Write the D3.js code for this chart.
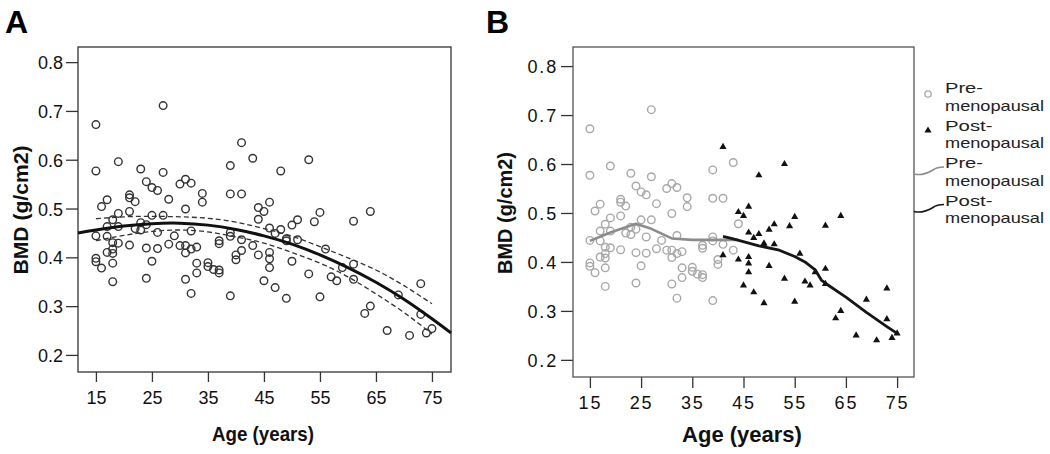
<!DOCTYPE html>
<html>
<head>
<meta charset="utf-8">
<script src="https://cdn.jsdelivr.net/npm/d3@7"></script>
<style>
  body { margin: 0; background: #fff; }
  text { font-family: "Liberation Sans", Arial, sans-serif; }
</style>
</head>
<body>
<script>
// pre-menopausal women (age, BMD)
const preAge = [15,15,15,15,15, 16,16, 17,17,17,17, 18,18,18,18,18,18, 19,19,19,19,
  21,21,21,21, 22,22, 23,23,23, 24,24,24,24, 25,25,25, 26,26,26, 27,27,27, 28,28, 29,
  30,30, 31,31,31,31,31, 32,32,32,32, 33,33,33, 34,34, 35,35, 36, 37,37,37,37,
  39,39,39,39,39, 40,40, 41,41, 43,43, 44];
const preBmd = [0.672,0.577,0.444,0.398,0.391, 0.504,0.378, 0.518,0.463,0.443,0.410,
  0.477,0.430,0.417,0.408,0.388,0.350, 0.596,0.490,0.463,0.429,
  0.528,0.522,0.494,0.425, 0.514,0.459, 0.581,0.471,0.456, 0.555,0.467,0.419,0.357,
  0.543,0.486,0.392, 0.537,0.451,0.418, 0.711,0.574,0.486, 0.519,0.427, 0.444,
  0.550,0.424, 0.560,0.499,0.424,0.409,0.355, 0.552,0.454,0.417,0.326, 0.421,0.388,0.368,
  0.531,0.513, 0.389,0.381, 0.375, 0.434,0.428,0.374,0.368,
  0.588,0.530,0.451,0.443,0.321, 0.405,0.395, 0.530,0.436, 0.603,0.424, 0.478];
// post-menopausal women (age, BMD)
const postAge = [41,41, 44,44, 45,45, 46,46,46,46,46, 47,47, 48,48, 49,49,49, 50,50,
  51,51, 53,53, 54, 55,55, 56, 57, 58, 59, 61,61,61, 63, 64,64, 67, 69, 71, 73,73, 74, 75];
const postBmd = [0.635,0.414, 0.502,0.405, 0.494,0.352, 0.513,0.460,0.410,0.397,0.379,
  0.449,0.338, 0.577,0.457, 0.438,0.434,0.316, 0.466,0.392,
  0.477,0.436, 0.600,0.366, 0.473, 0.492,0.319, 0.417, 0.360, 0.352, 0.379,
  0.474,0.386,0.355, 0.285, 0.494,0.300, 0.250, 0.323, 0.240, 0.346,0.283, 0.245, 0.254];

// panel A: quadratic fit with 95% CI
const fitAge = [11.8, 15, 20, 25, 30, 35, 40, 45, 50, 55, 60, 65, 70, 75, 78.4];
const fitMid = [0.450, 0.456, 0.464, 0.469, 0.470, 0.466, 0.457, 0.444, 0.427, 0.405, 0.379, 0.349, 0.314, 0.274, 0.245];
const ciAge = [15, 20, 25, 30, 35, 40, 45, 50, 55, 60, 65, 70, 75];
const ciUpper = [0.479, 0.483, 0.484, 0.483, 0.480, 0.472, 0.459, 0.443, 0.422, 0.399, 0.374, 0.342, 0.305];
const ciLower = [0.434, 0.445, 0.453, 0.456, 0.452, 0.442, 0.429, 0.410, 0.388, 0.360, 0.325, 0.287, 0.243];

// panel B: loess lines
const loessPreAge = [15, 19, 24, 26.7, 31, 35, 40, 44];
const loessPreBmd = [0.443, 0.460, 0.478, 0.469, 0.448, 0.445, 0.445, 0.445];
const loessPostAge = [41, 43, 48, 52, 55, 57, 59, 60.2, 61.2, 65, 69, 73, 75];
const loessPostBmd = [0.452, 0.447, 0.433, 0.424, 0.411, 0.400, 0.384, 0.363, 0.355, 0.328, 0.297, 0.268, 0.254];

const xTicks = [15, 25, 35, 45, 55, 65, 75];
const yTicks = [0.2, 0.3, 0.4, 0.5, 0.6, 0.7, 0.8];
const legendLabels = [["Pre-", "menopausal"], ["Post-", "menopausal"], ["Pre-", "menopausal"], ["Post-", "menopausal"]];

const width = 1050, height = 454;
const svg = d3.select("body").append("svg").attr("width", width).attr("height", height);

const allAge = preAge.concat(postAge);
const allBmd = preBmd.concat(postBmd);

//panel A scales
const xA = d3.scaleLinear().domain([11.8, 78.4]).range([78, 451]);
const yA = d3.scaleLinear().domain([0.165, 0.831]).range([372, 47]);
//panel B scales
const xB = d3.scaleLinear().domain([11.7, 78.3]).range([573, 914]);
const yB = d3.scaleLinear().domain([0.165, 0.839]).range([377, 47]);

function drawAxes(x, y, opts) {
  const gx = svg.append("g").attr("transform", `translate(0,${y.range()[0]})`)
    .call(d3.axisBottom(x).tickValues(xTicks).tickSize(opts.tick).tickSizeOuter(0).tickPadding(opts.padX));
  const gy = svg.append("g").attr("transform", `translate(${x.range()[0]},0)`)
    .call(d3.axisLeft(y).tickValues(yTicks).tickFormat(d3.format(".1f")).tickSize(12).tickSizeOuter(0).tickPadding(3));
  [gx, gy].forEach(g => {
    g.select(".domain").remove();
    g.selectAll(".tick line").attr("stroke", "#333").attr("stroke-width", 1.3);
    g.selectAll(".tick text").attr("fill", "#111")
      .style("font-family", "Liberation Sans, Arial, sans-serif")
      .style("font-size", "18px")
      .style("letter-spacing", opts.spacing);
  });
  gy.selectAll(".tick text").attr("dy", "0.36em");
  //frame
  svg.append("rect")
    .attr("x", x.range()[0]).attr("y", y.range()[1])
    .attr("width", x.range()[1] - x.range()[0])
    .attr("height", y.range()[0] - y.range()[1])
    .attr("fill", "none").attr("stroke", opts.frame).attr("stroke-width", 1.3);
}

drawAxes(xA, yA, {tick: 10, padX: 9, spacing: "0px", frame: "#333"});
drawAxes(xB, yB, {tick: 11, padX: 8, spacing: "1.8px", frame: "#555"});

//panel A points
svg.append("g").selectAll("circle")
  .data(allAge.map((a, i) => [a, allBmd[i]]))
  .enter().append("circle")
  .attr("cx", d => xA(d[0])).attr("cy", d => yA(d[1]))
  .attr("r", 3.8)
  .attr("fill", "none").attr("stroke", "#333").attr("stroke-width", 1.4);

//panel A fit line and CI
const lineA = d3.line().x(d => xA(d[0])).y(d => yA(d[1])).curve(d3.curveNatural);
svg.append("path").attr("d", lineA(ciAge.map((a, i) => [a, ciUpper[i]])))
  .attr("fill", "none").attr("stroke", "#333").attr("stroke-width", 1.3).attr("stroke-dasharray", "5,3");
svg.append("path").attr("d", lineA(ciAge.map((a, i) => [a, ciLower[i]])))
  .attr("fill", "none").attr("stroke", "#333").attr("stroke-width", 1.3).attr("stroke-dasharray", "5,3");
svg.append("path").attr("d", lineA(fitAge.map((a, i) => [a, fitMid[i]])))
  .attr("fill", "none").attr("stroke", "#111").attr("stroke-width", 3);

//panel B points
svg.append("g").selectAll("circle")
  .data(preAge.map((a, i) => [a, preBmd[i]]))
  .enter().append("circle")
  .attr("cx", d => xB(d[0])).attr("cy", d => yB(d[1]))
  .attr("r", 3.8)
  .attr("fill", "none").attr("stroke", "#a8a8a8").attr("stroke-width", 1.4);

const tri = d3.symbol().type(d3.symbolTriangle).size(22);
svg.append("g").selectAll("path")
  .data(postAge.map((a, i) => [a, postBmd[i]]))
  .enter().append("path")
  .attr("d", tri)
  .attr("transform", d => `translate(${xB(d[0])},${yB(d[1])})`)
  .attr("fill", "#111");

//panel B loess lines
const lineB = d3.line().x(d => xB(d[0])).y(d => yB(d[1]));
svg.append("path").attr("d", lineB(loessPreAge.map((a, i) => [a, loessPreBmd[i]])))
  .attr("fill", "none").attr("stroke", "#8c8c8c").attr("stroke-width", 2.6).attr("stroke-linejoin", "round");
svg.append("path").attr("d", lineB(loessPostAge.map((a, i) => [a, loessPostBmd[i]])))
  .attr("fill", "none").attr("stroke", "#151515").attr("stroke-width", 2.8).attr("stroke-linejoin", "round");

//axis titles
svg.append("text").text("Age (years)")
  .attr("x", 263).attr("y", 441).attr("text-anchor", "middle")
  .attr("textLength", 102).attr("lengthAdjust", "spacingAndGlyphs")
  .style("font-size", "21px").style("font-weight", "bold").attr("fill", "#111");
svg.append("text").text("BMD (g/cm2)")
  .attr("transform", "translate(28,210) rotate(-90)").attr("text-anchor", "middle")
  .attr("textLength", 129).attr("lengthAdjust", "spacingAndGlyphs")
  .style("font-size", "20px").style("font-weight", "bold").attr("fill", "#111");
svg.append("text").text("Age (years)")
  .attr("x", 742).attr("y", 442).attr("text-anchor", "middle")
  .style("font-size", "22px").style("font-weight", "bold").attr("fill", "#111");
svg.append("text").text("BMD (g/cm2)")
  .attr("transform", "translate(512,213) rotate(-90)").attr("text-anchor", "middle")
  .attr("textLength", 122).attr("lengthAdjust", "spacingAndGlyphs")
  .style("font-size", "20px").style("font-weight", "bold").attr("fill", "#111");

//panel letters
svg.append("text").text("A").attr("x", 5).attr("y", 33)
  .style("font-size", "32px").style("font-weight", "bold").attr("fill", "#000");
svg.append("text").text("B").attr("x", 486).attr("y", 33)
  .style("font-size", "32px").style("font-weight", "bold").attr("fill", "#000");

//legend (two-line labels)
const legX = 945, legY0 = 93, legStep = 37.5;
legendLabels.forEach((lab, i) => {
  const yy = legY0 + i * legStep;
  svg.append("text").attr("x", legX).attr("y", yy).text(lab[0])
    .style("font-size", "15px").attr("fill", "#222")
    .attr("textLength", lab[0].length * 9.5).attr("lengthAdjust", "spacingAndGlyphs");
  svg.append("text").attr("x", legX).attr("y", yy + 17.5).text(lab[1])
    .style("font-size", "15px").attr("fill", "#222")
    .attr("textLength", 99).attr("lengthAdjust", "spacingAndGlyphs");
});
svg.append("circle").attr("cx", 928).attr("cy", legY0 + 1).attr("r", 3.2)
  .attr("fill", "none").attr("stroke", "#a8a8a8").attr("stroke-width", 1.3);
svg.append("path").attr("d", tri).attr("transform", `translate(928,${legY0 + legStep})`).attr("fill", "#111");
const squiggle = y0 => `M914,${y0 + 4} C922,${y0 + 6} 928,${y0 + 3} 933,${y0} C937,${y0 - 3} 940,${y0 - 3} 944,${y0 - 3}`;
svg.append("path").attr("d", squiggle(legY0 + 2 * legStep + 2))
  .attr("fill", "none").attr("stroke", "#8c8c8c").attr("stroke-width", 1.6);
svg.append("path").attr("d", squiggle(legY0 + 3 * legStep + 2))
  .attr("fill", "none").attr("stroke", "#151515").attr("stroke-width", 1.6);
</script>
</body>
</html>
